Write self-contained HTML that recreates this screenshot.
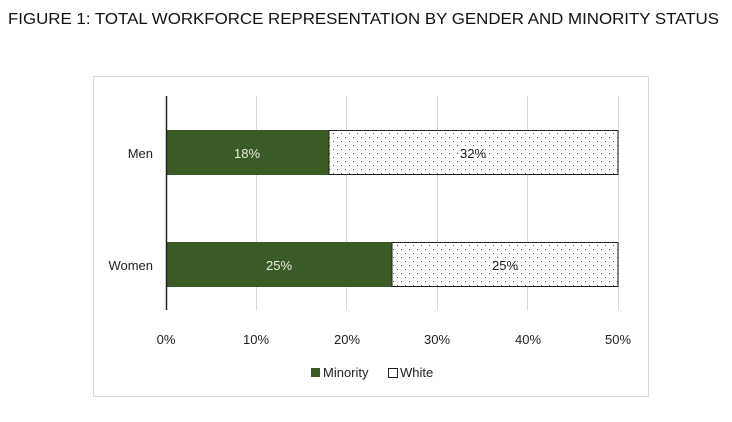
<!DOCTYPE html>
<html><head><style>
body{margin:0;background:#fff;width:732px;height:417px;overflow:hidden;font-family:"Liberation Sans",sans-serif}
</style></head><body>
<svg width="732" height="417" xmlns="http://www.w3.org/2000/svg" font-family="Liberation Sans, sans-serif">
<defs>
<pattern id="dots" width="8" height="8" patternUnits="userSpaceOnUse">
<rect width="8" height="8" fill="#fff"/>
<rect x="1" y="1" width="1" height="1" fill="#555"/>
<rect x="5" y="5" width="1" height="1" fill="#555"/>
</pattern>
</defs>
<text x="8" y="24" font-size="15.5" fill="#111" textLength="711" lengthAdjust="spacingAndGlyphs">FIGURE 1: TOTAL WORKFORCE REPRESENTATION BY GENDER AND MINORITY STATUS</text>
<rect x="93.5" y="76.5" width="555" height="320" fill="#fff" stroke="#d9d9d9"/>
<g stroke="#d9d9d9" stroke-width="1">
<line x1="256.5" y1="96" x2="256.5" y2="310"/>
<line x1="346.5" y1="96" x2="346.5" y2="310"/>
<line x1="437.5" y1="96" x2="437.5" y2="310"/>
<line x1="527.5" y1="96" x2="527.5" y2="310"/>
<line x1="618.5" y1="96" x2="618.5" y2="310"/>
</g>
<rect x="166" y="130" width="163" height="45" fill="#3c5a25"/>
<rect x="329" y="130.5" width="289" height="44" fill="url(#dots)" stroke="#222" stroke-width="1"/>
<rect x="166" y="242" width="226" height="45" fill="#3c5a25"/>
<rect x="392" y="242.5" width="226" height="44" fill="url(#dots)" stroke="#222" stroke-width="1"/>
<line x1="166.5" y1="96" x2="166.5" y2="310" stroke="#222" stroke-width="1.5"/>
<g font-size="13" text-anchor="middle">
<text x="247" y="158" fill="#e8eedc">18%</text>
<text x="473" y="158" fill="#222">32%</text>
<text x="279" y="270" fill="#e8eedc">25%</text>
<text x="505" y="270" fill="#222">25%</text>
</g>
<g font-size="13" fill="#222" text-anchor="end">
<text x="153" y="158">Men</text>
<text x="153" y="270">Women</text>
</g>
<g font-size="13" fill="#222" text-anchor="middle">
<text x="166" y="344">0%</text>
<text x="256" y="344">10%</text>
<text x="347" y="344">20%</text>
<text x="437" y="344">30%</text>
<text x="528" y="344">40%</text>
<text x="618" y="344">50%</text>
</g>
<rect x="311" y="368" width="9" height="9" fill="#3c5a25"/>
<text x="323" y="377" font-size="13" fill="#222">Minority</text>
<rect x="388.5" y="368.5" width="9" height="9" fill="#fff" stroke="#222"/>
<text x="400" y="377" font-size="13" fill="#222">White</text>
</svg>
</body></html>
